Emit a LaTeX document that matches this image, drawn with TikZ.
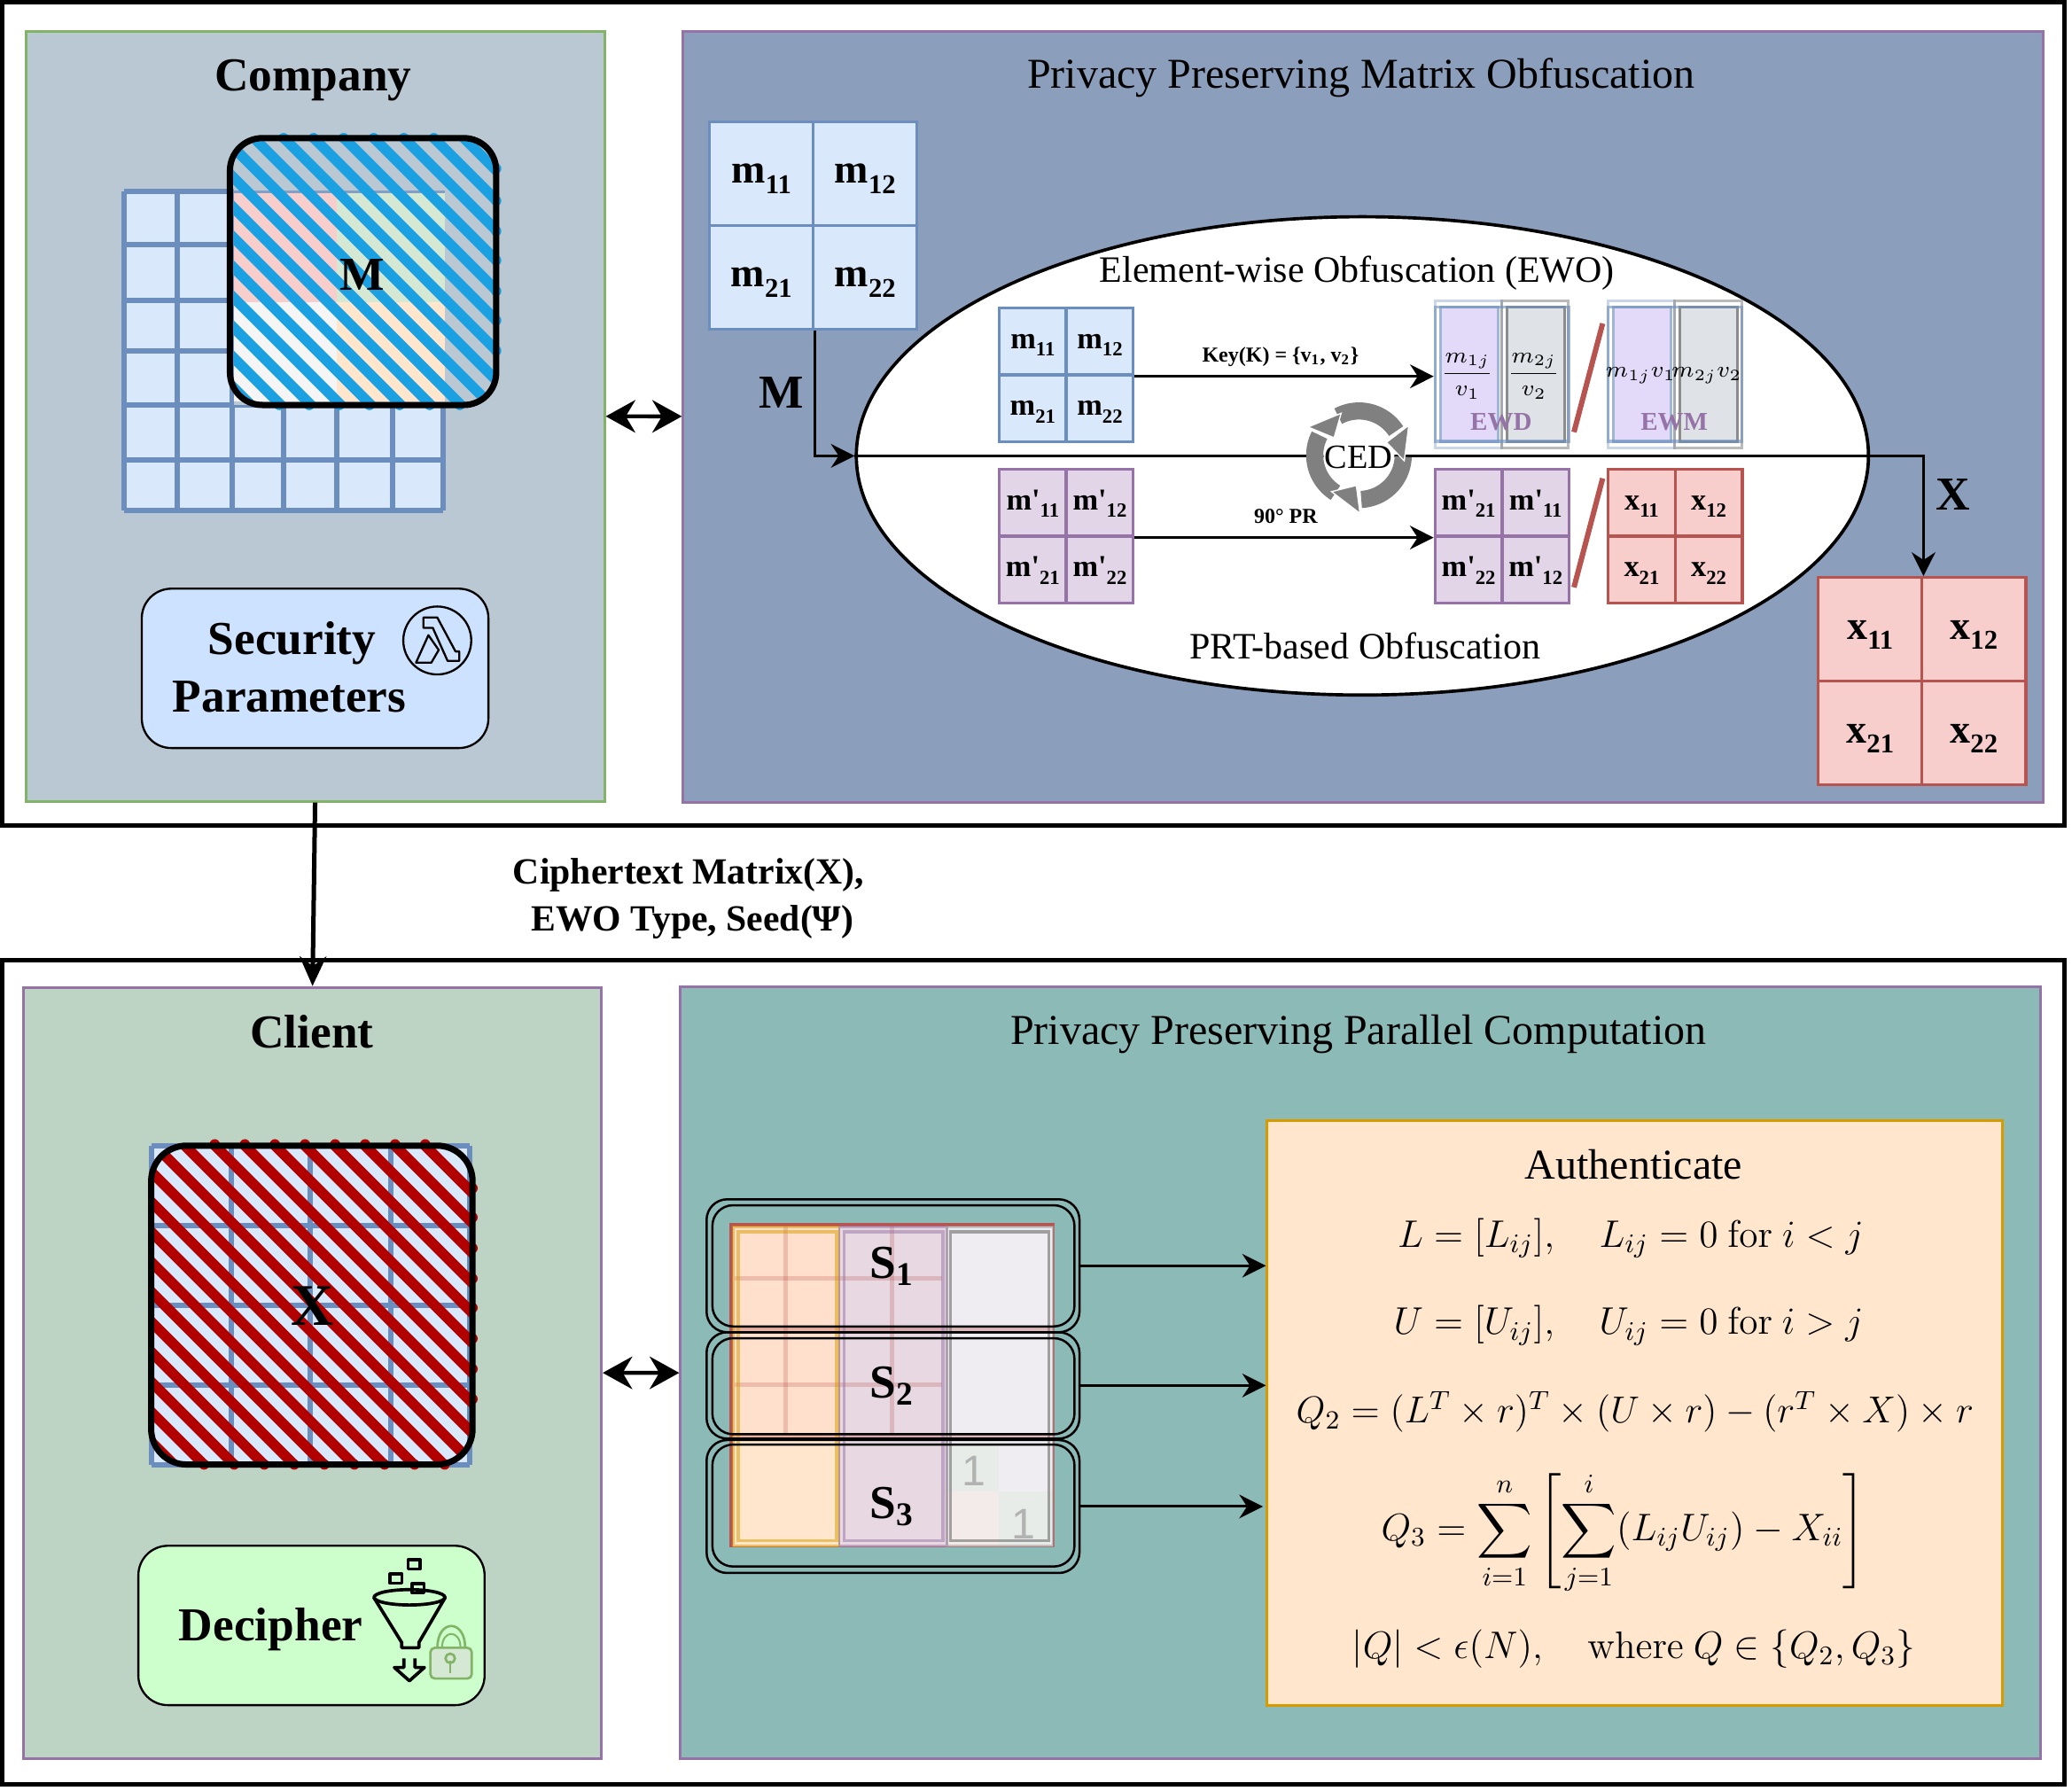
\documentclass[tikz,border=0pt]{standalone}
\usepackage{fix-cm}
\usepackage{amsmath}
\usepackage{amssymb}
\usepackage[no-math]{fontspec}
\setmainfont{Liberation Serif}
\newfontfamily\labelsans{Liberation Sans}
\newfontfamily\primefont{Liberation Serif}
\usepackage{tikz}
\usetikzlibrary{shapes.geometric, arrows.meta, positioning, fit, calc}
\definecolor{companyfill}{RGB}{186, 200, 211}
\definecolor{obfusfill}{RGB}{139, 159, 188}
\definecolor{clientfill}{RGB}{189, 211, 195}
\definecolor{computefill}{RGB}{139, 186, 183}
\definecolor{greenline}{RGB}{130, 179, 102}
\definecolor{purpleline}{RGB}{150, 115, 166}
\definecolor{blueline}{RGB}{108, 142, 191}
\definecolor{redline}{RGB}{184, 84, 80}
\definecolor{goldline}{RGB}{215, 155, 0}
\definecolor{bluecellfill}{RGB}{218, 232, 252}
\definecolor{purplecellfill}{RGB}{225, 213, 231}
\definecolor{redcellfill}{RGB}{248, 206, 204}
\definecolor{orangefill}{RGB}{255, 230, 204}
\definecolor{greenfill}{RGB}{213, 232, 212}
\definecolor{greyfill}{RGB}{245, 245, 245}
\definecolor{hatchblue}{RGB}{27, 161, 226}
\definecolor{hatchred}{RGB}{178, 0, 0}
\definecolor{secfill}{RGB}{204, 226, 255}
\definecolor{decfill}{RGB}{204, 255, 204}
\definecolor{ringgrey}{RGB}{128, 128, 128}
\definecolor{ewleft}{RGB}{227, 218, 249}
\definecolor{ewright}{RGB}{223, 226, 231}
\definecolor{shareorange}{RGB}{255, 224, 204}
\definecolor{sharepurple}{RGB}{231, 216, 226}
\definecolor{sharegrey}{RGB}{239, 237, 242}

% labels of the matrix cells
\newcommand{\bigsub}[2]{#1\raisebox{-3.5pt}{\fontsize{9.2}{9.2}\selectfont\bfseries #2}}
\newcommand{\smallsub}[2]{#1\raisebox{-2.6pt}{\fontsize{6.8}{6.8}\selectfont\bfseries #2}}
\newcommand{\mprime}{m{\primefont\bfseries '}}
% two by two matrix: name, cell style, left, top, cell size, four labels
\newcommand{\mfour}[9]{
    \node[cell, #2, fit={(#3,#4) (#3+#5,#4+#5)}] (#1a) {};
    \node[cell, #2, fit={(#3+#5,#4) (#3+2*#5,#4+#5)}] (#1b) {};
    \node[cell, #2, fit={(#3,#4+#5) (#3+#5,#4+2*#5)}] (#1c) {};
    \node[cell, #2, fit={(#3+#5,#4+#5) (#3+2*#5,#4+2*#5)}] (#1d) {};
    \node[#2, draw=none, fill=none, anchor=base, yshift=-\celldrop] (#1at) at (#1a.center) {#6};
    \node[#2, draw=none, fill=none, anchor=base, yshift=-\celldrop] (#1bt) at (#1b.center) {#7};
    \node[#2, draw=none, fill=none, anchor=base, yshift=-\celldrop] (#1ct) at (#1c.center) {#8};
    \node[#2, draw=none, fill=none, anchor=base, yshift=-\celldrop] (#1dt) at (#1d.center) {#9};
}
% hatch stripes: left, top, right, bottom, start offset, colour, corner radius
\newcommand{\hatchfill}[7]{
    \begin{scope}
        \clip[rounded corners=#7] (#1,#2) rectangle (#3,#4);
        \foreach \k in {0,...,24} {
            \draw[#6, line width=3.5pt] (#1-10,{#1-10+#5+22.7*\k}) -- (#3+10,{#3+10+#5+22.7*\k});
        }
    \end{scope}
}
% one column of the EWD / EWM blocks: name, left, right, fill, outer line, inner line
\newcommand{\ewcol}[6]{
    \node[colouter, draw=#5, fit={(#2,228) (#3,339)}] (#1) {};
    \node[colinner, draw=#6, fill=#4, fit={(#2+4,232.5) (#3-3,334)}] (#1in) {};
}

\begin{document}
\begin{tikzpicture}[
    x=0.4473pt, y=-0.4473pt,
    drop/.store in=\celldrop, drop=0pt,
    frame/.style={draw, line width=1.5pt, inner sep=0pt},
    panel/.style={draw, line width=0.9pt, inner sep=0pt},
    title/.style={font=\fontsize{16}{18}\selectfont\bfseries},
    subtitle/.style={font=\fontsize{14.4}{16}\selectfont},
    ewotitle/.style={font=\fontsize{12.6}{15}\selectfont},
    cell/.style={draw, line width=1pt, inner sep=0pt},
    bigblue/.style={draw=blueline, fill=bluecellfill, drop=3.3pt, font=\fontsize{13.8}{16}\selectfont\bfseries},
    bigred/.style={draw=redline, fill=redcellfill, drop=3.3pt, font=\fontsize{13.8}{16}\selectfont\bfseries},
    smallblue/.style={draw=blueline, fill=bluecellfill, drop=2.4pt, font=\fontsize{10.3}{12}\selectfont\bfseries},
    smallpurple/.style={draw=purpleline, fill=purplecellfill, drop=2.4pt, font=\fontsize{10.3}{12}\selectfont\bfseries},
    smallred/.style={draw=redline, fill=redcellfill, drop=2.4pt, font=\fontsize{10.3}{12}\selectfont\bfseries},
    gridline/.style={draw=blueline, line width=1.8pt},
    blob/.style={draw, line width=2.1pt, rounded corners=11pt, inner sep=0pt},
    option/.style={draw, line width=0.7pt, rounded corners=10pt, inner sep=0pt},
    colouter/.style={line width=0.9pt, inner sep=0pt, opacity=0.6},
    colinner/.style={line width=0.9pt, inner sep=0pt},
    srow/.style={draw, line width=0.75pt, rounded corners=7pt, inner sep=0pt},
    slash/.style={redline, line width=1.8pt},
    sublabel/.style={font=\fontsize{16}{18}\selectfont\bfseries},
    keylabel/.style={font=\fontsize{7.2}{9}\selectfont\bfseries},
    ewlabel/.style={text=purpleline, font=\fontsize{8.7}{10}\selectfont\bfseries},
    fraclabel/.style={font=\fontsize{7.6}{9}\selectfont},
    eqn/.style={font=\fontsize{13}{15}\selectfont},
    icon/.style={line width=0.7pt},
    funnel/.style={line width=1.1pt, line join=round},
    flow/.style={-{Stealth[length=8pt, width=8pt]}, line width=0.9pt},
    bigflow/.style={-{Stealth[length=10pt, width=9pt]}, line width=1.5pt},
    both/.style={{Stealth[length=10pt, width=11pt]}-{Stealth[length=10pt, width=11pt]}, line width=1.3pt}
]
    \useasboundingbox (0,0) rectangle (1568,1355.4);

    % Outer frames
    \node[frame, fit={(1.7,2) (1562.4,625)}] (topframe) {};
    \node[frame, fit={(1.7,726.4) (1562.4,1350.1)}] (bottomframe) {};

    % Panels
    \node[panel, draw=greenline, fill=companyfill, fit={(19.5,23.5) (457.4,606.3)}] (company) {};
    \node[panel, draw=purpleline, fill=obfusfill, fit={(517,24) (1546,607)}] (obfus) {};
    \node[panel, draw=purpleline, fill=clientfill, fit={(17.9,747.2) (455.1,1330.6)}] (client) {};
    \node[panel, draw=purpleline, fill=computefill, fit={(515,747) (1544,1331)}] (compute) {};

    % Titles
    \node[title] (companytitle) at (237,61) {Company};
    \node[title] (clienttitle) at (236,781) {Client};
    \node[subtitle] (obfustitle) at (1030,59) {Privacy Preserving Matrix Obfuscation};
    \node[subtitle] (computetitle) at (1028,783) {Privacy Preserving Parallel Computation};

    % Company data grid
    \fill[bluecellfill] (94,144.7) rectangle (335,386);
    \foreach \x in {94,134,175.5,214.6,254.6,296.8,335} {
        \draw[gridline] (\x,144.7) -- (\x,386);
    }
    \foreach \y in {144.7,185,227.2,265.4,306.4,347.8,386} {
        \draw[gridline] (94,\y) -- (335,\y);
    }
    % Company selected block
    \fill[companyfill] (177.2,104.5) rectangle (375.5,306.5);
    \fill[redcellfill] (177.2,146) rectangle (254.6,228.5);
    \fill[greenfill] (254.6,146) rectangle (336.5,228.5);
    \fill[greyfill] (177.2,228.5) rectangle (254.6,303.6);
    \fill[orangefill] (254.6,228.5) rectangle (336.5,303.6);
    \draw[blueline!70!companyfill, line width=1pt] (177.2,145) -- (336.5,145);
    \hatchfill{174}{104.5}{375.5}{306.5}{-292}{hatchblue}{11pt}
    \foreach \x in {214.6,237.3,260,282.8,305.6,328.3} {
        \fill[hatchblue] (\x,104.5) circle[radius=1.75pt];
    }
    \foreach \y in {127.5,152,174.9,197,220.3,242.5,265.4} {
        \fill[hatchblue] (375.5,\y) circle[radius=1.75pt];
    }
    \foreach \x in {211.3,234,256.8,279.6,302.3,325.1,347.9} {
        \fill[hatchblue] (\x,306.5) circle[radius=1.75pt];
    }
    \node[blob, fit={(174,104.5) (375.5,306.5)}] (mblob) {};
    \node[title] (mlabel) at (274,208) {M};

    % Security parameters
    \node[option, fill=secfill, fit={(107.3,445.5) (369.6,566.1)}] (security) {};
    \node[title] (sectop) at (221,487) {Security};
    \node[title] (secbot) at (219,527) {Parameters};
    \draw[icon] (330.9,484.7) circle[radius=11.5pt];
    \draw[icon, line join=round] (320.4,467.3) -- (330.9,467.3) -- (344.7,493) -- (347.6,493) -- (347.6,500.1) -- (338.7,500.1) -- (327.5,475.1) -- (320.4,475.1) -- cycle;
    \draw[icon, line join=round] (324.2,480.7) -- (314.8,501.5) -- (326.4,501.5) -- (332,491.9) -- cycle;

    % Obfuscated matrix M
    \mfour{m}{bigblue}{537}{92}{78.5}{\bigsub{m}{11}}{\bigsub{m}{12}}{\bigsub{m}{21}}{\bigsub{m}{22}}
    \mfour{x}{bigred}{1376}{437}{78.5}{\bigsub{x}{11}}{\bigsub{x}{12}}{\bigsub{x}{21}}{\bigsub{x}{22}}

    % Ellipse
    \node[ellipse, draw, fill=white, line width=1.1pt, minimum width=342.6pt, minimum height=161.9pt, inner sep=0pt] (ewo) at (1031,345) {};
    \node[ewotitle] (ewotext) at (1027,207) {Element-wise Obfuscation (EWO)};
    \node[ewotitle] (prttext) at (1033,489) {PRT-based Obfuscation};

    % Arrows through the ellipse
    \draw[flow, line width=1.1pt] (mc.south east) |- (ewo.west);
    \draw[line width=1.1pt] (ewo.west) -- (ewo.east);
    \draw[flow, line width=1.1pt] (ewo.east) -| (xa.north east);
    \node[title] (mflow) at (591,297) {M};
    \node[title] (xflow) at (1478,374) {X};

    % CED ring
    \node[circle, fill=white, minimum size=24pt, inner sep=0pt] (cedhub) at (1028.4,344.5) {};
    \foreach \a/\b in {-118/-33,2/87,122/207} {
        \draw[ringgrey, line width=5.8pt] plot[domain=\a:\b, samples=24, smooth] ({1028.4+33.5*cos(\x)},{344.5+33.5*sin(\x)});
    }
    \foreach \t in {7,127,247} {
        \fill[ringgrey, draw=white, line width=0.4pt] ({1028.4+44*cos(\t-38)},{344.5+44*sin(\t-38)}) -- ({1028.4+23*cos(\t-32)},{344.5+23*sin(\t-32)}) -- ({1028.4+34.5*cos(\t)},{344.5+34.5*sin(\t)}) -- cycle;
    }
    \node[font=\fontsize{11.5}{13}\selectfont] (cedtext) at (1028,346) {CED};

    % Ellipse matrices
    \mfour{p}{smallblue}{756.2}{233}{50.7}{\smallsub{m}{11}}{\smallsub{m}{12}}{\smallsub{m}{21}}{\smallsub{m}{22}}
    \mfour{q}{smallpurple}{756.2}{355}{50.7}{\smallsub{\mprime}{11}}{\smallsub{\mprime}{12}}{\smallsub{\mprime}{21}}{\smallsub{\mprime}{22}}
    \mfour{r}{smallpurple}{1086}{355}{50.7}{\smallsub{\mprime}{21}}{\smallsub{\mprime}{11}}{\smallsub{\mprime}{22}}{\smallsub{\mprime}{12}}
    \mfour{s}{smallred}{1217}{355}{50.7}{\smallsub{x}{11}}{\smallsub{x}{12}}{\smallsub{x}{21}}{\smallsub{x}{22}}

    % EWD and EWM blocks
    \ewcol{ewda}{1086}{1136.5}{ewleft}{blueline!60!white}{blueline!65!white}
    \ewcol{ewdb}{1136.5}{1187}{ewright}{black!45}{black!45}
    \ewcol{ewma}{1217}{1267.5}{ewleft}{blueline!60!white}{blueline!65!white}
    \ewcol{ewmb}{1267.5}{1318}{ewright}{black!45}{black!45}
    \draw[blueline, opacity=0.6, line width=1pt] (1086,232.5) rectangle (1187,334);
    \draw[blueline, opacity=0.6, line width=1pt] (1217,232.5) rectangle (1318,334);
    \node[fraclabel] (fraca) at (1110.4,284.5) {$\displaystyle\frac{m_{1j}}{v_1}$};
    \node[fraclabel] (fracb) at (1160.7,284.5) {$\displaystyle\frac{m_{2j}}{v_2}$};
    \node[fraclabel, inner sep=0pt] (proda) at (1241.5,284) {$m_{1j}v_1$};
    \node[fraclabel, inner sep=0pt] (prodb) at (1291.5,284) {$m_{2j}v_2$};
    \node[ewlabel] (ewd) at (1136,319.5) {EWD};
    \node[ewlabel] (ewm) at (1267,319.5) {EWM};
    \draw[slash] (1212.8,244.8) -- (1191.1,327);
    \draw[slash] (1212.8,362) -- (1191.1,444.5);

    % Ellipse arrows
    \draw[flow] (pb.south east) -- (ewda.west |- pb.south east);
    \node[keylabel] (keytext) at (969,270) {Key(K) = \{v\textsubscript{1}, v\textsubscript{2}\}};
    \draw[flow] (qb.south east) -- (ra.south west);
    \node[keylabel] (prtext) at (973,391) {90° PR};

    % Client grid
    \fill[bluecellfill] (115,866.9) rectangle (355.5,1108.6);
    \foreach \x in {115,174.9,235,295.8,355.5} {
        \draw[gridline] (\x,866.9) -- (\x,1108.6);
    }
    \foreach \y in {866.9,927.4,987.7,1048,1108.6} {
        \draw[gridline] (115,\y) -- (355.5,\y);
    }
    \hatchfill{114.4}{867}{357.6}{1108.3}{500}{hatchred}{12pt}
    \foreach \x in {162.5,185.3,208,230.8,253.6,276.3,299,321.8} {
        \fill[hatchred] (\x,866) circle[radius=1.75pt];
    }
    \foreach \y in {899.2,921.3,944.6,967.6,989.7,1013,1036,1058.8} {
        \fill[hatchred] (357.6,\y) circle[radius=1.75pt];
    }
    \foreach \x in {154.4,177.2,200,222.7,245.5,268.2,291,313.7,336.5} {
        \fill[hatchred] (\x,1108.3) circle[radius=1.75pt];
    }
    \node[blob, rounded corners=12pt, fit={(114.4,867) (357.6,1108.3)}] (xblob) {};
    \node[font=\fontsize{20}{22}\selectfont\bfseries] (xlabel) at (236.5,988) {X};

    % Decipher
    \node[option, fill=decfill, fit={(104.7,1169.8) (366.7,1290.4)}] (decipher) {};
    \node[title] (dectext) at (205,1233) {Decipher};
    \draw[funnel] (282.8,1208.8) -- (304,1243) -- (304,1247) -- (317,1247) -- (317,1243) -- (337,1208.8);
    \draw[funnel] (309.9,1208.8) ellipse[x radius=12pt, y radius=2.6pt];
    \foreach \x/\y in {299.7/1194.7,313.4/1183.9,316.3/1202} {
        \draw[funnel] (\x-4.5,\y-3.5) rectangle (\x+4.5,\y+3.5);
    }
    \draw[funnel] (305.6,1255) -- (305.6,1261.9) -- (298.4,1261.9) -- (309.8,1272) -- (321.2,1261.9) -- (314,1261.9) -- (314,1255);
    \draw[greenline, line width=0.8pt, rounded corners=1.5pt, fill=greenfill] (325.7,1247) rectangle (357,1270.3);
    \draw[greenline, line width=0.8pt] (331,1247) .. controls (331,1225) and (352,1225) .. (352,1247);
    \draw[greenline, line width=0.6pt] (334.5,1247) .. controls (334.5,1233) and (348.5,1233) .. (348.5,1247);
    \draw[greenline, line width=0.8pt] (340.7,1255) circle[radius=1.6pt];
    \draw[greenline, line width=0.8pt] (340.7,1257) -- (340.7,1266);

    % Share matrix
    \fill[redline] (552.2,925.5) rectangle (798,1170.8);
    \fill[shareorange] (554.5,928.2) rectangle (635.1,1090);
    \fill[orangefill] (554.5,1090) rectangle (635.1,1170.3);
    \fill[sharepurple] (635.1,928.2) rectangle (716.5,1170.3);
    \fill[sharegrey] (716.5,928.2) rectangle (797,1170.3);
    \fill[greenfill!30!sharegrey] (716.5,1093) rectangle (755.8,1129);
    \fill[greenfill!30!sharegrey] (755.8,1129) rectangle (797,1170.3);
    \fill[orangefill!25!sharegrey] (716.5,1129) rectangle (755.8,1170.3);
    \foreach \x in {594.4,674.9} {
        \draw[redline, opacity=0.25, line width=1.5pt] (\x,927.8) -- (\x,1084.3);
    }
    \foreach \y in {967.6,1048} {
        \draw[redline, opacity=0.25, line width=1.5pt] (555.7,\y) -- (712.7,\y);
    }
    \foreach \y in {1006,1087} {
        \draw[redline, opacity=0.35, line width=1pt] (552.2,\y) -- (798,\y);
    }
    \draw[goldline, opacity=0.5, line width=1pt] (558.6,932.2) rectangle (633,1165.9);
    \draw[goldline, opacity=0.5, line width=0.8pt] (555,928.5) rectangle (635.1,1170);
    \draw[purpleline, opacity=0.5, line width=1pt] (638.9,932.2) rectangle (713.6,1165.9);
    \draw[purpleline, opacity=0.5, line width=0.8pt] (635.1,928.5) rectangle (716.5,1170);
    \draw[black!50, opacity=0.7, line width=1pt] (719.4,932.2) rectangle (793.6,1165.9);
    \draw[black!40, opacity=0.5, line width=0.8pt] (716.5,928.5) rectangle (797,1170);
    \node[text=black!30, font=\labelsans\fontsize{14.5}{16}\selectfont] (onea) at (736.9,1113.3) {1};
    \node[text=black!30, font=\labelsans\fontsize{14.5}{16}\selectfont] (oneb) at (774.7,1153.6) {1};
    \node[sublabel] (sa) at (675,958) {S\textsubscript{1}};
    \node[sublabel] (sb) at (675,1049) {S\textsubscript{2}};
    \node[sublabel] (sc) at (675,1140) {S\textsubscript{3}};

    % Share rows
    \node[srow, fit={(534.7,907.6) (816.9,1008.2)}] (rowa) {};
    \node[srow, fit={(534.7,1008.2) (816.9,1088.7)}] (rowb) {};
    \node[srow, fit={(534.7,1089.8) (816.9,1190.4)}] (rowc) {};
    \node[srow, fit={(539.1,912.1) (813.1,1003.8)}] (rowain) {};
    \node[srow, fit={(539.1,1012.7) (813.1,1085.4)}] (rowbin) {};
    \node[srow, fit={(539.1,1093.2) (813.1,1185.5)}] (rowcin) {};

    % Authenticate
    \node[panel, draw=goldline, fill=orangefill, fit={(959,848.3) (1515.3,1290.5)}] (auth) {};
    \node[font=\fontsize{14.4}{16}\selectfont] (authtitle) at (1236.4,881) {Authenticate};
    \node[eqn] (eqa) at (1233.9,937) {$L = [L_{ij}],\quad L_{ij} = 0\ \mathrm{for}\ i < j$};
    \node[eqn] (eqb) at (1232.4,1003) {$U = [U_{ij}],\quad U_{ij} = 0\ \mathrm{for}\ i > j$};
    \node[eqn, font=\fontsize{12.7}{15}\selectfont] (eqc) at (1237.2,1068.5) {$Q_2 = (L^T \times r)^T \times (U \times r) - (r^T \times X) \times r$};
    \node[eqn] (eqd) at (1228.5,1160) {$\displaystyle Q_3 = \sum_{i=1}^{n} \left[\sum_{j=1}^{i} (L_{ij}U_{ij}) - X_{ii}\right]$};
    \node[eqn] (eqe) at (1236.4,1248) {$|Q| < \epsilon(N),\quad \mathrm{where}\ Q \in \{Q_2, Q_3\}$};

    % Arrows between the panels
    \draw[both] (company) -- (obfus);
    \draw[both] (client) -- (compute);
    \draw[bigflow] (company.south) -- (client.north);
    \node[font=\fontsize{12.5}{14}\selectfont\bfseries] (ciphera) at (521,662) {Ciphertext Matrix(X),};
    \node[font=\fontsize{12.5}{14}\selectfont\bfseries] (cipherb) at (524,698) {EWO Type, Seed(Ψ)};
    \draw[flow] (rowa.east) -- (auth.west |- rowa.east);
    \draw[flow] (rowb.east) -- (auth.west |- rowb.east);
    \draw[flow] (rowc.east) -- ([xshift=-1pt]auth.west |- rowc.east);
\end{tikzpicture}
\end{document}
